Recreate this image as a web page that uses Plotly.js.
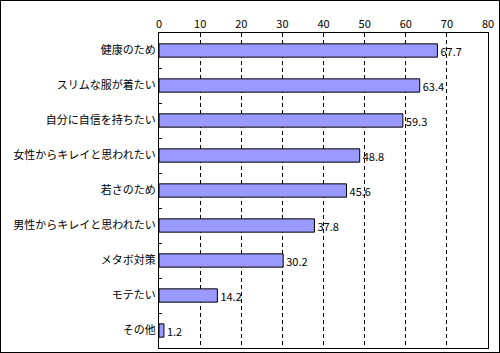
<!DOCTYPE html>
<html>
<head>
<meta charset="utf-8">
<script src="https://cdn.plot.ly/plotly-3.0.1.min.js"></script>
<style>
html,body{margin:0;padding:0;background:#fff;}
#wrap{position:relative;width:500px;height:353px;}
#chart{position:absolute;left:0;top:0;width:500px;height:353px;}
#frame{position:absolute;left:0;top:0;width:500px;height:353px;box-sizing:border-box;border:1px solid #000;pointer-events:none;}
</style>
</head>
<body>
<div id="wrap"><div id="chart"></div><div id="frame"></div></div>
<script>
const categories = ["健康のため","スリムな服が着たい","自分に自信を持ちたい","女性からキレイと思われたい","若さのため","男性からキレイと思われたい","メタボ対策","モテたい","その他"];
const values = [67.7, 63.4, 59.3, 48.8, 45.6, 37.8, 30.2, 14.2, 1.2];
const xTicks = [0,10,20,30,40,50,60,70,80];

const font = "'Noto Sans CJK JP', sans-serif";
Plotly.newPlot('chart', [{
  type: 'bar',
  orientation: 'h',
  x: values,
  y: categories,
  marker: {color: '#9999FF', line: {color: '#000', width: 1}},
  text: values.map(v => v.toFixed(1)),
  textposition: 'outside',
  constraintext: 'none',
  textfont: {family: font, size: 11, color: '#000'},
  cliponaxis: false,
  hoverinfo: 'none'
}], {
  width: 500, height: 353,
  margin: {l: 159, r: 12, t: 33, b: 5},
  paper_bgcolor: '#fff', plot_bgcolor: '#fff',
  bargap: 0.62,
  showlegend: false,
  font: {family: font, size: 11, color: '#000'},
  xaxis: {
    side: 'top', range: [0, 80], tickvals: xTicks, ticktext: xTicks.map(String),
    showgrid: true, gridcolor: '#000', griddash: '4px,3px', gridwidth: 1,
    zeroline: false, showline: true, linecolor: '#000', linewidth: 1, mirror: true,
    ticks: '', tickfont: {family: font, size: 11, color: '#000'}
  },
  yaxis: {
    type: 'category', autorange: 'reversed',
    showgrid: false, zeroline: false, showline: true, linecolor: '#000', linewidth: 1, mirror: true,
    ticks: 'inside', ticklen: 3, tickcolor: '#000', tickson: 'boundaries',
    tickfont: {family: font, size: 11, color: '#000'}
  }
}, {staticPlot: true});
</script>
</body>
</html>
